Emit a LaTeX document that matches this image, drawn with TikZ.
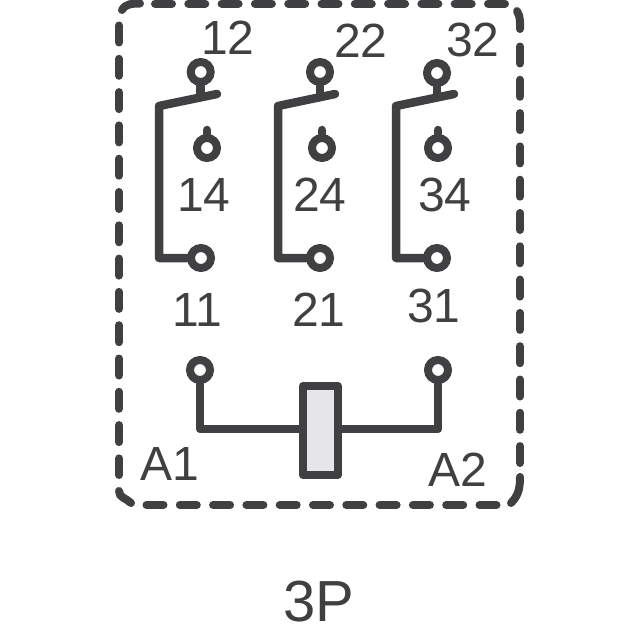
\documentclass[tikz,border=0pt]{standalone}
\usepackage{fontspec}
\setmainfont{Liberation Sans}
\definecolor{ink}{HTML}{404042}
\definecolor{coilfill}{HTML}{E6E6E8}
\tikzset{
  wire/.style={draw=ink,line width=8.5pt,line cap=round,line join=round},
  frameline/.style={draw=ink,line width=8pt,line cap=round},
  framedash/.style={frameline,dash pattern=on 17pt off 16.3pt},
  terminal/.style={circle,draw=ink,fill=white,line width=8pt,minimum size=20pt,inner sep=0pt},
  lbl/.style={text=ink,inner sep=0pt,font=\fontsize{48}{48}\selectfont},
}
\begin{document}
\begin{tikzpicture}[x=1pt,y=-1pt]
\useasboundingbox (0,0) rectangle (640,640);

% dashed frame
\draw[framedash] (155,3.5) -- (505,3.5);
\draw[framedash] (146.5,505) -- (497,505);
\draw[framedash] (119,25.5) -- (119,475);
\draw[framedash] (520,46.5) -- (520,463);
\draw[frameline] (122,10) to[out=60,in=180] (140,3.5);
\draw[frameline] (119,491) to[out=-90,in=135] (131,503);
\draw[frameline] (520,477) to[out=-90,in=45] (511,503);
\draw[frameline] (517,11) to[out=-60,in=90] (520,29);

% contact sets
\foreach \n/\x/\w/\tx/\ty/\mx/\lx in {1/200.7/159/217/72/207/201, 2/320/278/335/72/322/320, 3/437/396/454/73/438/437} {
  \node[terminal] (no\n) at (\x,\ty) {};
  \node[terminal] (nc\n) at (\mx,148) {};
  \node[terminal] (com\n) at (\lx,258) {};
  \coordinate (low\n) at (\w,258);
  \coordinate (hinge\n) at (\w,106);
  \coordinate (tip\n) at (\tx,94);
  \coordinate (stubno\n) at (\x,97);
  \coordinate (stubnc\n) at (\mx,130);
  \draw[wire] (com\n) -- (low\n) -- (hinge\n) -- (tip\n);
  \draw[wire] (no\n) -- (stubno\n);
  \draw[wire] (nc\n) -- (stubnc\n);
}

% coil
\node[terminal] (a1) at (200,370) {};
\node[terminal] (a2) at (438,370) {};
\coordinate (wirel) at (200,429);
\coordinate (wirer) at (438,429);
\node[draw=ink,fill=coilfill,line width=8pt,line join=round,minimum width=35pt,minimum height=89pt,inner sep=0pt] (coil) at (320.5,430.5) {};
\draw[wire] (a1) -- (wirel) -- (coil.west |- wirel);
\draw[wire] (a2) -- (wirer) -- (coil.east |- wirer);

% labels
\node[lbl] (l12) at (228,38) {12};
\node[lbl] (l22) at (361,41) {22};
\node[lbl] (l32) at (473,40) {32};
\node[lbl] (l14) at (204,195) {14};
\node[lbl] (l24) at (320,195) {24};
\node[lbl] (l34) at (445,195) {34};
\node[lbl] (l11) at (197,310) {11};
\node[lbl] (l21) at (319,310) {21};
\node[lbl] (l31) at (434,306) {31};
\node[lbl] (la1) at (170,464) {A1};
\node[lbl] (la2) at (458,470) {A2};
\node[lbl,font=\fontsize{58}{58}\selectfont] (l3p) at (319,602) {3P};
\end{tikzpicture}
\end{document}
